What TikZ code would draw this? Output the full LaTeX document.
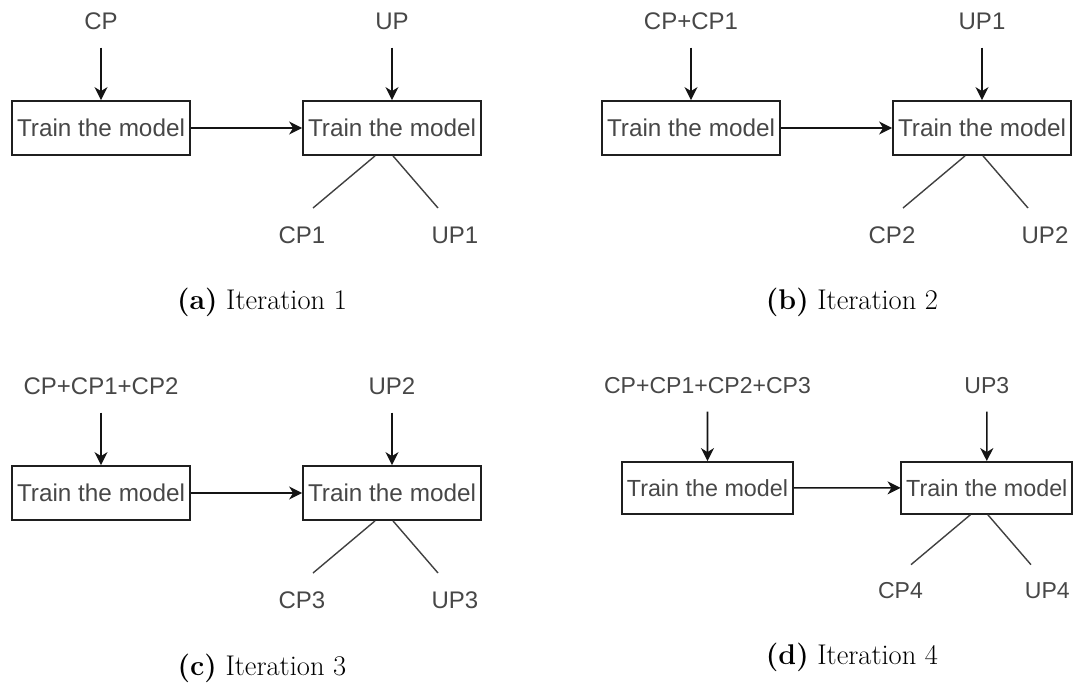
\documentclass[tikz,border=0pt]{standalone}
\usepackage{fontspec}
\newfontfamily\diagfont{Liberation Sans}
\usetikzlibrary{arrows.meta}
\tikzset{
  lbl/.style={font=\diagfont\fontsize{24}{28}\selectfont, text=black!72, inner sep=0pt, text height=17pt, text depth=0pt},
  trainbox/.style={draw=black!88, line width=1.8pt, minimum width=178pt, minimum height=54pt, inner sep=0pt,
    font=\diagfont\fontsize{24.3}{28}\selectfont, text=black!72},
  arr/.style={-{Stealth[length=13pt,width=13pt,inset=4pt]}, line width=1.6pt, draw=black!92},
  lin/.style={line width=1.4pt, draw=black!75},
  captext/.style={font=\fontsize{28.5}{34}\selectfont, text=black, inner sep=0pt},
}
\newcommand\DrawPanel[5]{%
  \node[trainbox] (#1b1) at (101,128) {Train the model};
  \node[trainbox] (#1b2) at (392,128) {Train the model};
  \node[lbl] (#1t1) at (101,21) {#2};
  \node[lbl] (#1t2) at (392,21) {#3};
  \node[lbl] (#1o1) at (302,235) {#4};
  \node[lbl] (#1o2) at (455,235) {#5};
  \coordinate (#1e1) at (313,208);
  \coordinate (#1e2) at (438,208);
  \draw[arr, shorten <=18pt] (#1t1) -- (#1b1);
  \draw[arr, shorten <=18pt] (#1t2) -- (#1b2);
  \draw[arr] (#1b1) -- (#1b2);
  \draw[lin] ([xshift=-17pt]#1b2.south) -- (#1e1);
  \draw[lin] ([xshift=1pt]#1b2.south) -- (#1e2);
}
\begin{document}
\begin{tikzpicture}[x=1pt,y=-1pt]
\useasboundingbox (0,0) rectangle (1073,685);
\begin{scope}
  \DrawPanel{a}{CP}{UP}{CP1}{UP1}
\end{scope}
\begin{scope}[shift={(590,0)}]
  \DrawPanel{b}{CP+CP1}{UP1}{CP2}{UP2}
\end{scope}
\begin{scope}[shift={(0,365)}]
  \DrawPanel{c}{CP+CP1+CP2}{UP2}{CP3}{UP3}
\end{scope}
\begin{scope}[shift={(610.5,365)}, scale=0.96, transform shape]
  \DrawPanel{d}{CP+CP1+CP2+CP3}{UP3}{CP4}{UP4}
\end{scope}
\node[captext] (capa) at (262,302) {\textbf{(a)} Iteration 1};
\node[captext] (capb) at (852,302) {\textbf{(b)} Iteration 2};
\node[captext] (capc) at (262,668) {\textbf{(c)} Iteration 3};
\node[captext] (capd) at (852,657) {\textbf{(d)} Iteration 4};
\end{tikzpicture}
\end{document}
